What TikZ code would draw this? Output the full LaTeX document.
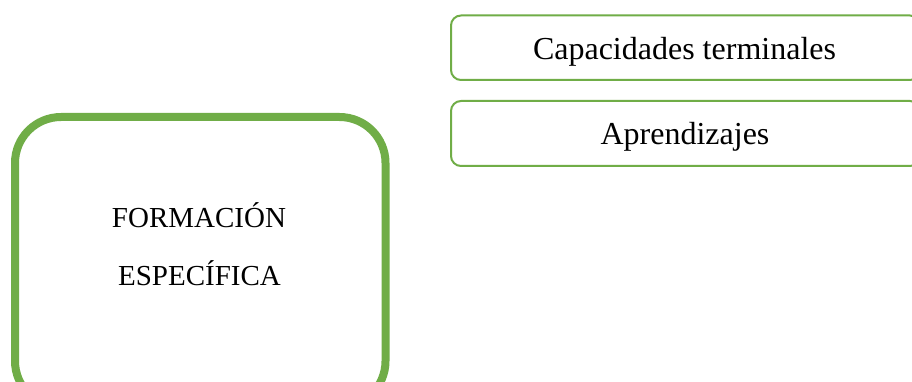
\documentclass[tikz,border=0pt]{standalone}
\usepackage{fontspec}
\setmainfont{Liberation Serif}
\definecolor{boxgreen}{HTML}{70AD47}
\begin{document}
\begin{tikzpicture}[x=1pt,y=-1pt,
  bigbox/.style={draw=boxgreen,line width=8pt,rounded corners=46pt},
  smallbox/.style={draw=boxgreen,line width=2pt,rounded corners=10pt},
  bigtxt/.style={anchor=base,inner sep=0pt,font=\fontsize{29}{34}\selectfont},
  smalltxt/.style={anchor=base,inner sep=0pt,font=\fontsize{32}{38}\selectfont}]
\useasboundingbox (0,0) rectangle (912,382);
\fill[white] (0,0) rectangle (912,382);
\draw[bigbox] (15,117) rectangle (385.5,407);
\draw[smallbox] (451,15.5) rectangle (920,80);
\draw[smallbox] (451,101) rectangle (920,166);
\node[smalltxt] (cap) at (684.5,60) {Capacidades terminales};
\node[smalltxt] (apr) at (685,145) {Aprendizajes};
\node[bigtxt] (form) at (199,227) {FORMACIÓN};
\node[bigtxt] (esp) at (199.5,285) {ESPECÍFICA};
\end{tikzpicture}
\end{document}
